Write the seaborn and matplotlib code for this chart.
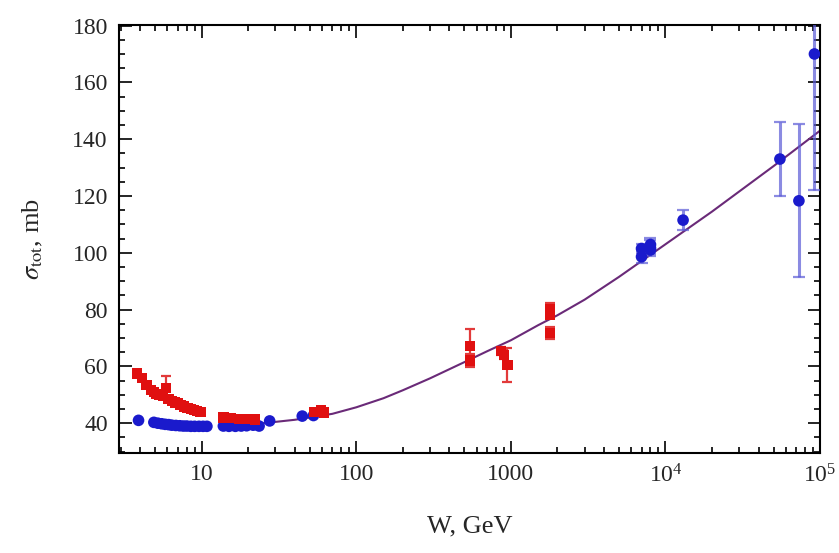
import numpy as np
import pandas as pd
import matplotlib
matplotlib.use("Agg")
import matplotlib.pyplot as plt
from matplotlib.ticker import FixedLocator, NullFormatter, MultipleLocator
import seaborn as sns

# pbar-p points (red)
red_W = [3.8, 4.1, 4.4, 4.7, 4.9, 5.1, 5.3, 5.6, 5.9, 6.1, 6.4, 6.7, 7.0, 7.3, 7.7, 8.1, 8.5, 8.9, 9.3, 9.8,
         13.8, 15.5, 17.5, 19.5, 22.0, 53.0, 59.0, 62.0,
         546, 546, 860, 905, 950, 1800, 1800, 1800]
red_sig = [57.5, 55.8, 53.5, 51.8, 51.0, 50.4, 50.0, 49.5, 52.5, 48.5, 47.8, 47.3, 47.0, 46.5, 45.9, 45.4, 45.0, 44.6, 44.3, 44.0,
           42.0, 41.8, 41.6, 41.5, 41.3, 44.0, 44.5, 43.8,
           67.3, 62.1, 65.5, 64.0, 60.5, 80.0, 78.0, 71.7]
red_err = [0, 0, 0, 0, 0, 0, 0, 0, 4.0, 0, 0, 0, 0, 0, 0, 0, 0, 0, 0, 0,
           0, 0, 0, 0, 0, 0, 0, 0,
           5.8, 2.4, 1.5, 1.5, 6.0, 2.2, 1.0, 2.0]

# pp points (blue)
blue_W = [3.9, 4.9, 5.2, 5.5, 5.8, 6.1, 6.4, 6.8, 7.2, 7.6, 8.0, 8.5, 9.0, 9.6, 10.2, 10.8,
          13.8, 15.0, 16.5, 18.0, 19.5, 21.5, 23.5, 27.5, 44.7, 52.8,
          7000, 7000, 8000, 8000, 8000, 13000, 55000, 73000, 92000]
blue_sig = [41.0, 40.3, 40.0, 39.8, 39.6, 39.5, 39.3, 39.2, 39.1, 39.0, 39.0, 38.9, 38.9, 38.9, 38.9, 38.9,
            39.0, 38.9, 38.9, 39.0, 39.1, 39.3, 39.0, 40.8, 42.5, 42.7,
            98.6, 101.5, 101.7, 102.9, 101.0, 111.5, 133.0, 118.3, 170.0]
blue_err = [0] * 26 + [2.2, 1.5, 2.9, 2.3, 1.5, 3.4, 13.0, 27.0, 48.0]

# fit curve
fit_W = [25, 40, 70, 100, 150, 200, 300, 500, 700, 1000, 1500, 2000, 3000, 5000, 1e4, 2e4, 5e4, 1e5]
fit_sig = [40.0, 41.2, 43.3, 45.6, 48.8, 51.6, 55.8, 61.5, 65.3, 69.2, 74.5, 78.0, 83.5, 91.5, 103.0, 114.5, 130.5, 143.0]

sns.set_style("ticks")
plt.rcParams["font.family"] = ["Liberation Serif", "DejaVu Serif"]
plt.rcParams["mathtext.fontset"] = "stix"

red = pd.DataFrame({"W": red_W, "sig": red_sig, "err": red_err})
blue = pd.DataFrame({"W": blue_W, "sig": blue_sig, "err": blue_err})
fit = pd.DataFrame({"W": fit_W, "sig": fit_sig})

fig = plt.figure(figsize=(8.39, 5.53), dpi=100)
ax = fig.add_axes([0.1418, 0.1808, 0.8356, 0.7740])

sns.lineplot(data=fit, x="W", y="sig", ax=ax, color="#6a2a78", lw=1.5, sort=False,
             estimator=None, zorder=2)

re = red[red.err > 0]
ax.errorbar(re.W, re.sig, yerr=re.err, fmt="none", ecolor="#e23a3a", elinewidth=1.6,
            capsize=3.5, capthick=1.6, zorder=3)
be = blue[blue.err > 0]
ax.errorbar(be.W, be.sig, yerr=be.err, fmt="none", ecolor="#5a5ad6", alpha=0.7,
            elinewidth=2.2, capsize=4, capthick=1.6, zorder=3)

sns.scatterplot(data=blue, x="W", y="sig", ax=ax, color="#1a1acc", marker="o", s=70,
                edgecolor="none", zorder=4)
sns.scatterplot(data=red, x="W", y="sig", ax=ax, color="#e01010", marker="s", s=55,
                edgecolor="none", zorder=5)

ax.set_xscale("log")
ax.set_xlim(10 ** 0.4645, 1e5)
ax.set_ylim(29.5, 180.2)

ax.xaxis.set_major_locator(FixedLocator([10, 100, 1000, 1e4, 1e5]))
ax.set_xticklabels(["10", "100", "1000", r"$\mathregular{10^4}$", r"$\mathregular{10^5}$"])
minors = [m * 10.0 ** d for d in range(0, 5) for m in range(2, 10)]
ax.xaxis.set_minor_locator(FixedLocator(minors))
ax.xaxis.set_minor_formatter(NullFormatter())
ax.yaxis.set_major_locator(MultipleLocator(20))
ax.yaxis.set_minor_locator(MultipleLocator(5))

ax.tick_params(which="both", direction="in", top=True, right=True, color="black", width=1.2)
ax.tick_params(which="major", length=9, labelsize=17, pad=8)
ax.tick_params(which="minor", length=4.5)
for s in ax.spines.values():
    s.set_linewidth(1.5)
    s.set_color("black")

ax.set_xlabel("W, GeV", fontsize=19, labelpad=20)
ax.set_ylabel(r"$\sigma_{\rm tot}$, mb", fontsize=19, labelpad=20)

fig.savefig("out.png", dpi=100)
